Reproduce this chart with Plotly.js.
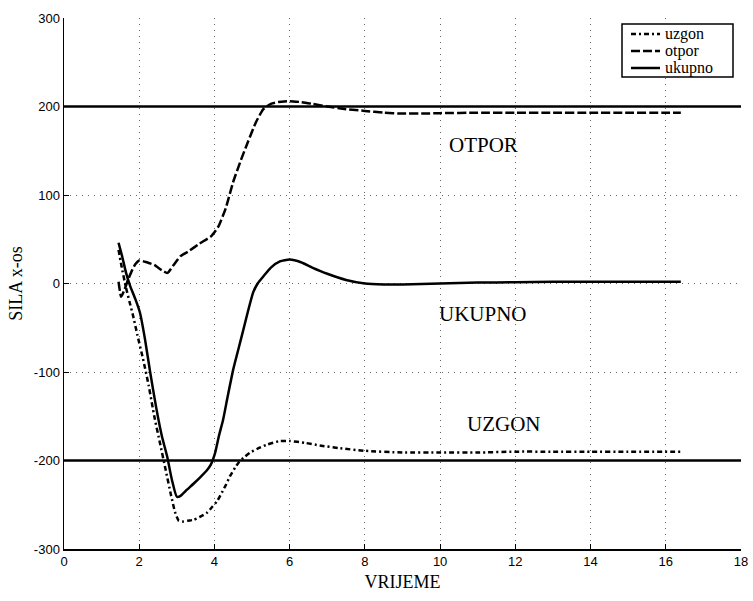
<!DOCTYPE html>
<html>
<head>
<meta charset="utf-8">
<script src="https://cdn.plot.ly/plotly-3.0.1.min.js"></script>
<style>html,body{margin:0;padding:0;background:#fff;}#chart{width:753px;height:601px;}</style>
</head>
<body>
<div id="chart"></div>
<script>
// ---- data ----
const uzgonT = [1.45,1.55,1.65,1.75,1.84,1.95,2.1,2.25,2.4,2.55,2.7,2.85,2.95,3.05,3.15,3.3,3.45,3.6,3.8,3.95,4.07,4.2,4.3,4.41,4.55,4.65,4.77,4.95,5.13,5.4,5.74,6.0,6.4,6.8,7.3,8.0,9.0,10,11,12,13,14,15,16.4];
const uzgonY = [38,15,-5,-22,-37,-58,-85,-115,-150,-180,-210,-240,-258,-268,-269,-268,-267,-264,-259,-252,-246,-236,-228,-218,-208,-202,-197,-191,-187,-182,-178,-178,-180,-183,-186,-189,-191,-191,-191,-190,-190,-190,-190,-190];

const otporT = [1.45,1.52,1.6,1.7,1.8,1.9,2.0,2.2,2.4,2.6,2.75,2.9,3.1,3.3,3.6,3.9,4.1,4.3,4.5,4.7,4.9,5.1,5.3,5.5,5.7,6.0,6.3,6.6,7.0,7.5,8.0,8.5,9.0,9.5,10,11,12,13,14,15,16,16.4];
const otporY = [2,-15,-8,4,14,22,26,24,21,15,12,20,31,36,45,53,64,85,115,139,161,182,197,203,205,206,205,203,200,197,195,193,192,192,192.5,193,193,193,193,193,193,193];

const ukupnoT = [1.45,1.55,1.65,1.76,1.9,2.02,2.15,2.29,2.45,2.6,2.74,2.87,3.0,3.1,3.27,3.45,3.62,3.8,3.9,4.02,4.12,4.23,4.35,4.5,4.65,4.77,4.9,5.03,5.15,5.3,5.5,5.74,6.0,6.3,6.6,7.0,7.5,8.0,8.5,9.0,10,11,12,13,14,15,16.4];
const ukupnoY = [46,30,12,-3,-18,-33,-62,-100,-140,-172,-195,-222,-241,-240,-233,-226,-219,-211,-205,-191,-172,-154,-128,-97,-72,-52,-30,-10,0,8,18,25,27,24,18,11,4,0,-1,-1,0,1,1.5,2,2,2,2];

const refLevels = [200, -200];
const refSpan = [0, 18];

const xTicks = [0,2,4,6,8,10,12,14,16,18];
const yTicks = [-300,-200,-100,0,100,200,300];

const seriesNames = ["uzgon", "otpor", "ukupno"];
const labels = ["OTPOR", "UKUPNO", "UZGON"];
const labelX = [11.15, 11.15, 11.7];
const labelY = [157, -34, -159];

// ---- styles ----
const serif = "Liberation Serif, Times New Roman, serif";
const sans = "Liberation Sans, Arial, sans-serif";
const dashes = ["5px,3px,2px,3px", "9px,3px", "solid"];

const traces = [];
refLevels.forEach(v => traces.push({
  x: refSpan, y: [v, v], mode: "lines", showlegend: false, hoverinfo: "skip",
  line: {color: "#000", width: 2.5}
}));
const seriesT = [uzgonT, otporT, ukupnoT];
const seriesY = [uzgonY, otporY, ukupnoY];
seriesNames.forEach((n, i) => traces.push({
  x: seriesT[i], y: seriesY[i], name: n, mode: "lines", showlegend: false,
  line: {color: "#000", width: 2.5, dash: dashes[i], shape: "spline", smoothing: 0.5}
}));

// custom legend (pixel -> paper conversion)
const L = 64, R = 741, T = 18, B = 549;
const px = x => (x - L) / (R - L);
const py = y => (B - y) / (B - T);
const shapes = [{type: "rect", xref: "paper", yref: "paper", x0: px(622), x1: px(733), y0: py(77), y1: py(24),
  line: {color: "#000", width: 1.5}, fillcolor: "#fff", layer: "above"}];
const annotations = labels.map((t, i) => ({x: labelX[i], y: labelY[i], text: t, showarrow: false,
  xanchor: "center", yanchor: "middle", font: {family: serif, size: 21, color: "#000"}}));
seriesNames.forEach((n, i) => {
  const yy = 34 + i * 17;
  shapes.push({type: "line", xref: "paper", yref: "paper", x0: px(631), x1: px(660), y0: py(yy), y1: py(yy),
    line: {color: "#000", width: 2.5, dash: dashes[i]}, layer: "above"});
  annotations.push({xref: "paper", yref: "paper", x: px(663), y: py(yy), text: n, showarrow: false,
    xanchor: "left", yanchor: "middle", font: {family: serif, size: 16, color: "#000"}});
});

const layout = {
  width: 753, height: 601,
  margin: {l: 64, r: 12, t: 18, b: 52},
  paper_bgcolor: "#fff", plot_bgcolor: "#fff",
  showlegend: false,
  xaxis: {range: [0, 18], tickvals: xTicks, ticktext: xTicks.map(String),
    showline: true, linecolor: "#000", linewidth: 1.5, mirror: false,
    ticks: "inside", ticklen: 5, tickcolor: "#000",
    showgrid: true, gridcolor: "#666", griddash: "1px,5px", gridwidth: 1, zeroline: false,
    tickfont: {family: sans, size: 13, color: "#000"},
    title: {text: "VRIJEME", font: {family: serif, size: 18, color: "#000"}, standoff: 7}},
  yaxis: {range: [-300, 300], tickvals: yTicks, ticktext: yTicks.map(String),
    showline: true, linecolor: "#000", linewidth: 1.5, mirror: false,
    ticks: "inside", ticklen: 5, tickcolor: "#000",
    showgrid: true, gridcolor: "#666", griddash: "1px,5px", gridwidth: 1, zeroline: false,
    tickfont: {family: sans, size: 13, color: "#000"},
    title: {text: "SILA x-os", font: {family: serif, size: 18, color: "#000"}, standoff: 6}},
  shapes: shapes,
  annotations: annotations
};
Plotly.newPlot("chart", traces, layout, {staticPlot: true, displayModeBar: false});
</script>
</body>
</html>
